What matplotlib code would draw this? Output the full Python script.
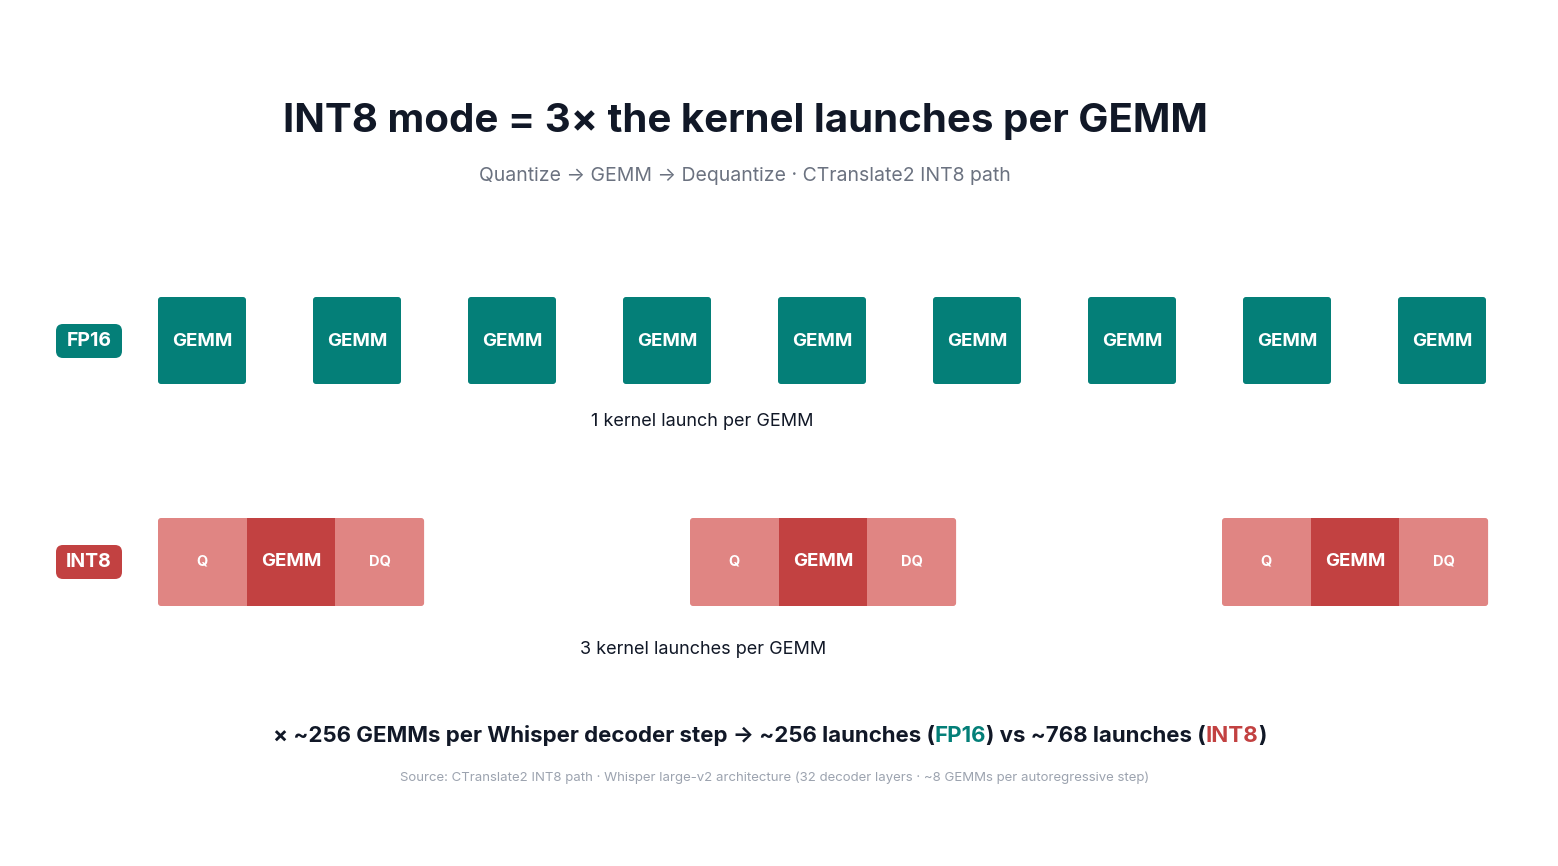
import matplotlib
matplotlib.use("Agg")
import matplotlib.pyplot as plt
from matplotlib.patches import FancyBboxPatch

plt.rcParams['font.family'] = ['Inter', 'DejaVu Sans']

# ── Data ──────────────────────────────────────────────
fp16_kernels = ["GEMM"] * 9
int8_groups = 3
int8_kernels = ["Q", "GEMM", "DQ"]
modes = ["FP16", "INT8"]
gemms_per_step = 256
launches = {"FP16": 256, "INT8": 768}

TEAL = "#047F78"
RED = "#C24141"
LIGHT_RED = "#E08583"
DARK = "#111827"

fig = plt.figure(figsize=(15.58, 8.66), dpi=100)
ax = fig.add_axes([0, 0, 1, 1])
ax.set_xlim(0, 1558)
ax.set_ylim(866, 0)
ax.axis("off")


def box(x, y, w, h, color, r=3):
    ax.add_patch(FancyBboxPatch((x + r, y + r), w - 2 * r, h - 2 * r,
                                boxstyle=f"round,pad={r}", fc=color, ec="none"))


# title / subtitle
ax.text(745, 121, "INT8 mode = 3× the kernel launches per GEMM", ha="center",
        va="center", fontsize=29, fontweight="bold", color=DARK)
ax.text(745, 176, "Quantize → GEMM → Dequantize · CTranslate2 INT8 path",
        ha="center", va="center", fontsize=14, color="#6B7280")

# mode badges
for label, y, c in [(modes[0], 341, TEAL), (modes[1], 562, RED)]:
    box(56, y - 17, 66, 34, c, r=7)
    ax.text(89, y, label, ha="center", va="center", fontsize=14,
            fontweight="bold", color="white")

# FP16 row
w, gap = 88, 155
for i, k in enumerate(fp16_kernels):
    x = 158 + i * gap
    box(x, 297, w, 87, TEAL)
    ax.text(x + w / 2, 341, k, ha="center", va="center", fontsize=13.5,
            fontweight="bold", color="white")
ax.text(702, 421, "1 kernel launch per GEMM", ha="center", va="center",
        fontsize=13, color=DARK)

# INT8 row
seg = 88.7
for g in range(int8_groups):
    x0 = 158 + g * 532
    box(x0, 518, seg * 3, 88, LIGHT_RED)
    ax.add_patch(plt.Rectangle((x0 + seg, 518), seg, 88, fc=RED, ec="none"))
    for j, k in enumerate(int8_kernels):
        big = k == "GEMM"
        ax.text(x0 + seg * (j + 0.5), 562, k, ha="center", va="center",
                fontsize=13.5 if big else 10.5, fontweight="bold", color="white")
ax.text(703, 650, "3 kernel launches per GEMM", ha="center", va="center",
        fontsize=13, color=DARK)

# bottom summary line with coloured pieces
pieces = [(f"× ~{gemms_per_step} GEMMs per Whisper decoder step → ~{launches['FP16']} launches (", DARK),
          ("FP16", TEAL), (f") vs ~{launches['INT8']} launches (", DARK),
          ("INT8", RED), (")", DARK)]
fig.canvas.draw()
renderer = fig.canvas.get_renderer()
objs = []
for txt, c in pieces:
    t = ax.text(0, 736, txt, ha="left", va="center", fontsize=16,
                fontweight="bold", color=c)
    objs.append(t)
inv = ax.transData.inverted()
widths = []
for t in objs:
    bb = t.get_window_extent(renderer)
    x0 = inv.transform((bb.x0, bb.y0))[0]
    x1 = inv.transform((bb.x1, bb.y0))[0]
    widths.append(x1 - x0)
x = 770 - sum(widths) / 2
for t, wd in zip(objs, widths):
    t.set_x(x)
    x += wd

ax.text(775, 778, "Source: CTranslate2 INT8 path · Whisper large-v2 architecture "
        "(32 decoder layers · ~8 GEMMs per autoregressive step)",
        ha="center", va="center", fontsize=9.5, color="#9CA3AF")

fig.savefig("out.png", dpi=100, facecolor="white")
